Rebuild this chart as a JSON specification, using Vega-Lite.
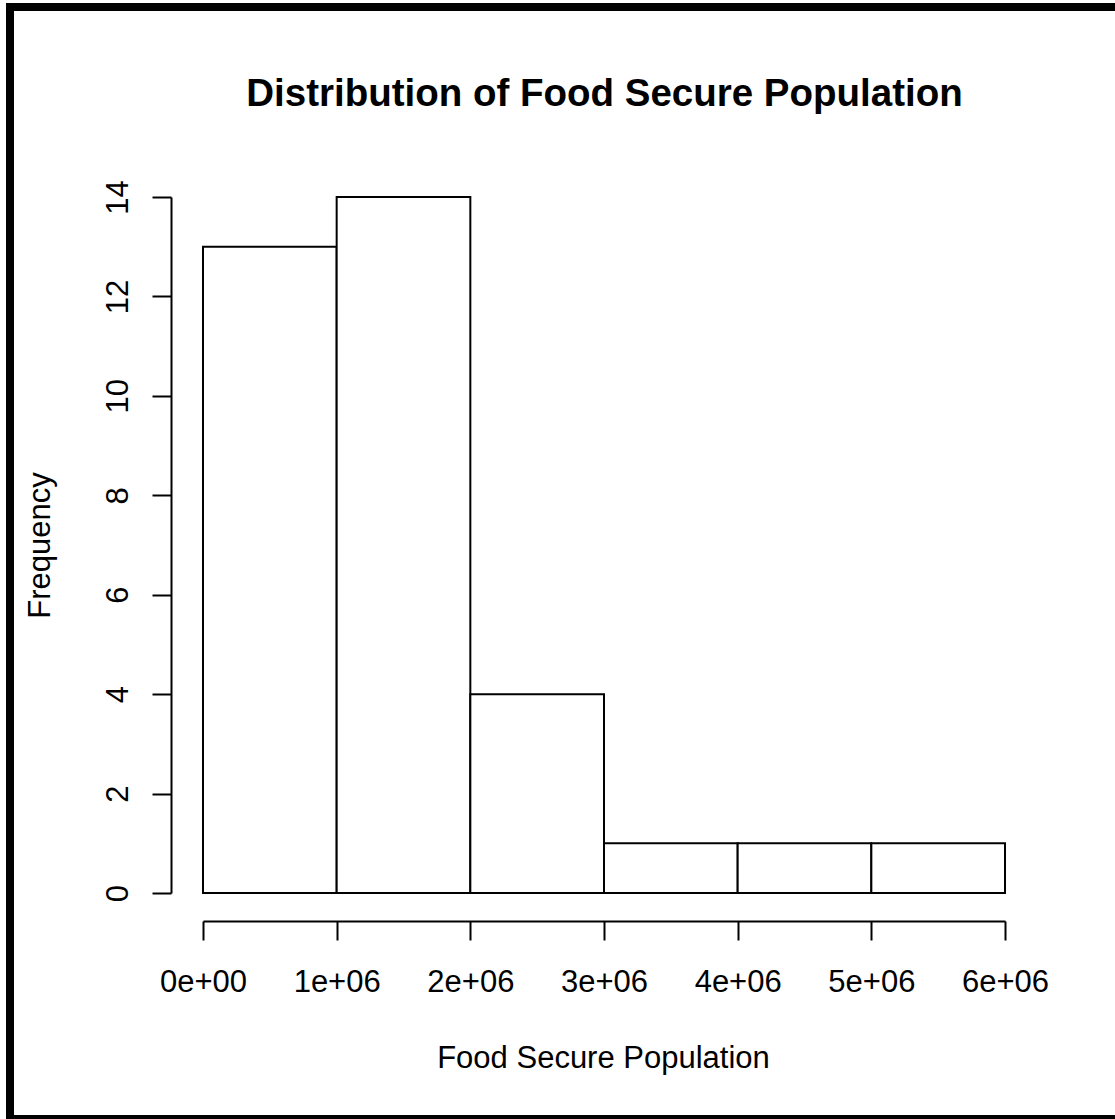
{
  "$schema": "https://vega.github.io/schema/vega-lite/v6.json",
  "width": 1105,
  "height": 1112,
  "autosize": {"type": "none"},
  "padding": {"left": 10, "top": 7, "right": 0, "bottom": 0},
  "background": "white",
  "config": {
    "view": {"stroke": "black", "strokeWidth": 8, "fill": "white", "strokeDash": [1105, 1112, 4000, 0]},
    "font": "Liberation Sans"
  },
  "title": {
    "text": "Distribution of Food Secure Population",
    "font": "Liberation Sans",
    "fontSize": 38.5,
    "fontWeight": "bold",
    "color": "black",
    "anchor": "middle",
    "frame": "group",
    "dx": 42,
    "offset": -137,
    "baseline": "alphabetic"
  },
  "data": {
    "values": [
      {"bin_start": 0, "bin_end": 1000000, "count": 13},
      {"bin_start": 1000000, "bin_end": 2000000, "count": 14},
      {"bin_start": 2000000, "bin_end": 3000000, "count": 4},
      {"bin_start": 3000000, "bin_end": 4000000, "count": 1},
      {"bin_start": 4000000, "bin_end": 5000000, "count": 1},
      {"bin_start": 5000000, "bin_end": 6000000, "count": 1}
    ]
  },
  "mark": {"type": "rect", "fill": "white", "stroke": "black", "strokeWidth": 2},
  "encoding": {
    "x": {
      "field": "bin_start",
      "type": "quantitative",
      "scale": {"domain": [0, 6000000], "range": [193, 995], "nice": false, "zero": false},
      "axis": {
        "orient": "bottom",
        "offset": -198,
        "values": [0, 1000000, 2000000, 3000000, 4000000, 5000000, 6000000],
        "labelExpr": "datum.value == 0 ? '0e+00' : format(datum.value / 1000000, 'd') + 'e+06'",
        "grid": false,
        "domainColor": "black",
        "domainWidth": 2,
        "tickColor": "black",
        "tickWidth": 2,
        "tickSize": 19,
        "labelFont": "Liberation Sans",
        "labelFontSize": 31,
        "labelColor": "black",
        "labelBaseline": "alphabetic",
        "labelPadding": 51,
        "labelFlush": false,
        "labelOverlap": false,
        "title": "Food Secure Population",
        "titleFont": "Liberation Sans",
        "titleFontSize": 31,
        "titleFontWeight": "normal",
        "titleColor": "black",
        "titleBaseline": "alphabetic",
        "titleAlign": "center",
        "titleX": 593,
        "titleY": 146
      }
    },
    "x2": {"field": "bin_end"},
    "y": {
      "field": "count",
      "type": "quantitative",
      "scale": {"domain": [0, 14], "range": [886, 190], "nice": false, "zero": false},
      "axis": {
        "orient": "left",
        "offset": -161,
        "values": [0, 2, 4, 6, 8, 10, 12, 14],
        "grid": false,
        "domainColor": "black",
        "domainWidth": 2,
        "tickColor": "black",
        "tickWidth": 2,
        "tickSize": 19,
        "labelFont": "Liberation Sans",
        "labelFontSize": 31,
        "labelColor": "black",
        "labelAngle": 270,
        "labelAlign": "center",
        "labelBaseline": "alphabetic",
        "labelPadding": 25,
        "labelFlush": false,
        "labelOverlap": false,
        "title": "Frequency",
        "titleFont": "Liberation Sans",
        "titleFontSize": 31,
        "titleFontWeight": "normal",
        "titleColor": "black",
        "titleAngle": 270,
        "titleAlign": "center",
        "titleBaseline": "alphabetic",
        "titleX": -122,
        "titleY": 538
      }
    },
    "y2": {"datum": 0}
  }
}
